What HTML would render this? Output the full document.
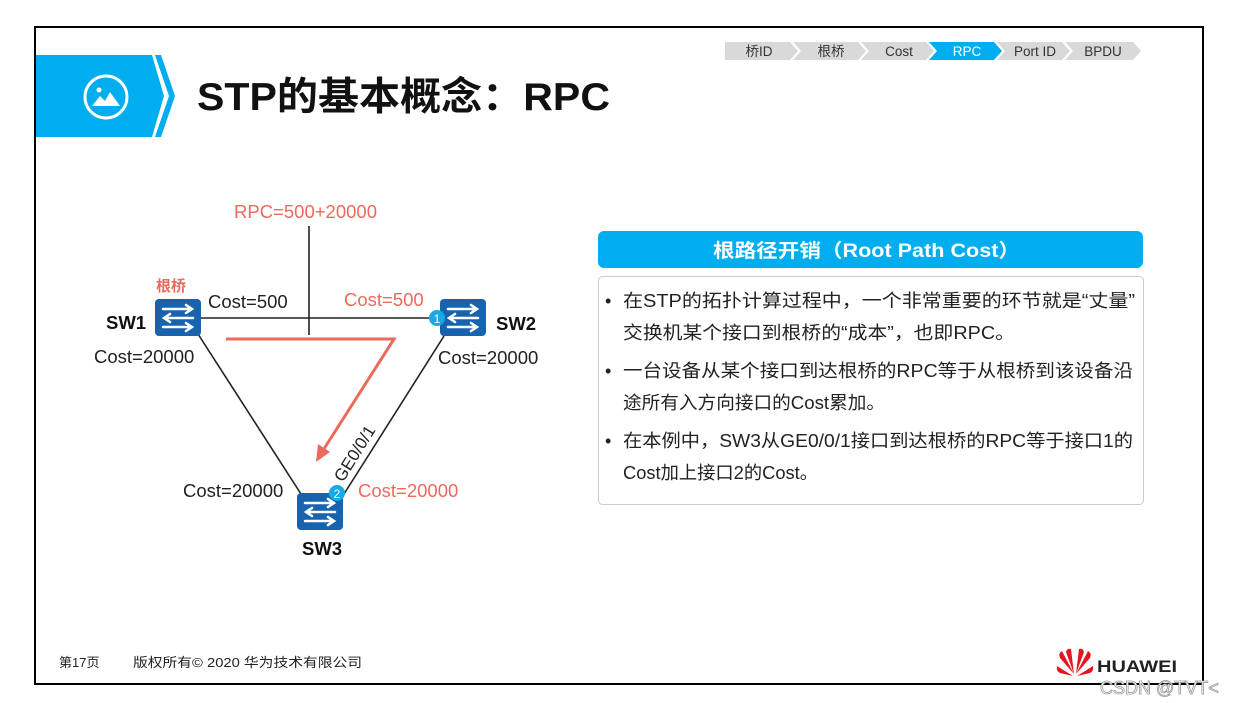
<!DOCTYPE html>
<html><head><meta charset="utf-8"><style>
body{margin:0;width:1240px;height:703px;background:#fff;position:relative;overflow:hidden;font-family:"Liberation Sans","Noto Sans CJK SC",sans-serif;}
</style></head><body>
<svg width="1240" height="703" style="position:absolute;left:0;top:0" font-family="Liberation Sans, Noto Sans CJK SC, sans-serif">
<defs>
<g id="sw">
<rect x="0" y="0" width="46" height="37" rx="4" fill="#1763ad"/>
<g stroke="#fff" stroke-width="2.5" fill="none" stroke-linecap="round">
<path d="M8 10H37M31 6L37 10L31 14"/>
<path d="M38 19H9M15 15L9 19L15 23"/>
<path d="M8 28H37M31 24L37 28L31 32"/>
</g></g>
</defs>
<rect x="35" y="27" width="1168" height="657" fill="none" stroke="#000" stroke-width="2"/>
<polygon points="36,55 152,55 164,96 152,137 36,137" fill="#00aeef"/>
<polygon points="155,55 161,55 175,96 161,137 155,137 169,96" fill="#00aeef"/>
<circle cx="106" cy="97" r="21" fill="none" stroke="#fff" stroke-width="3"/>
<circle cx="99" cy="90" r="2.5" fill="#fff"/>
<polygon points="92,106 100,96 105,101 110,92 120,106" fill="#fff"/>
<text x="197" y="110" font-size="39" font-weight="bold" fill="#111" textLength="413" lengthAdjust="spacingAndGlyphs">STP的基本概念：RPC</text>
<g font-size="13.5" text-anchor="middle">
<polygon points="725,42 790,42 798,51 790,60 725,60" fill="#d9d9d9"/>
<polygon points="793,42 858,42 866,51 858,60 793,60 801,51" fill="#d9d9d9"/>
<polygon points="861,42 926,42 934,51 926,60 861,60 869,51" fill="#d9d9d9"/>
<polygon points="929,42 994,42 1002,51 994,60 929,60 937,51" fill="#00aeef"/>
<polygon points="997,42 1062,42 1070,51 1062,60 997,60 1005,51" fill="#d9d9d9"/>
<polygon points="1065,42 1133,42 1141,51 1133,60 1065,60 1073,51" fill="#d9d9d9"/>
<text x="759" y="56" fill="#333">桥ID</text>
<text x="831" y="56" fill="#333">根桥</text>
<text x="899" y="56" fill="#333">Cost</text>
<text x="967" y="56" fill="#fff">RPC</text>
<text x="1035" y="56" fill="#333">Port ID</text>
<text x="1103" y="56" fill="#333">BPDU</text>
</g>
<g stroke="#222" stroke-width="1.6">
<line x1="200" y1="318" x2="442" y2="318"/>
<line x1="198" y1="334" x2="301" y2="494"/>
<line x1="444" y1="336" x2="344" y2="494"/>
<line x1="309" y1="226" x2="309" y2="335"/>
</g>
<polyline points="226,339 394,339 322,452" fill="none" stroke="#ec6a5c" stroke-width="3"/>
<polygon points="316,462 318,444 330,452" fill="#ec6a5c"/>
<use href="#sw" x="155" y="299"/>
<use href="#sw" x="440" y="299"/>
<use href="#sw" x="297" y="493"/>
<circle cx="437" cy="318" r="8" fill="#16a9e8"/>
<text x="437" y="323" font-size="12" fill="#fff" text-anchor="middle">1</text>
<circle cx="337" cy="493" r="8" fill="#16a9e8"/>
<text x="337" y="498" font-size="12" fill="#fff" text-anchor="middle">2</text>
<g font-size="18.5">
<text x="234" y="218" fill="#ec6a5c">RPC=500+20000</text>
<text x="156" y="291" fill="#ec6a5c" font-size="15" font-weight="bold">根桥</text>
<text x="106" y="329" font-weight="bold" fill="#111">SW1</text>
<text x="496" y="330" font-weight="bold" fill="#111">SW2</text>
<text x="302" y="555" font-weight="bold" fill="#111">SW3</text>
<text x="208" y="308" fill="#222">Cost=500</text>
<text x="344" y="306" fill="#ec6a5c">Cost=500</text>
<text x="94" y="363" fill="#222">Cost=20000</text>
<text x="438" y="364" fill="#222">Cost=20000</text>
<text x="183" y="497" fill="#222">Cost=20000</text>
<text x="358" y="497" fill="#ec6a5c">Cost=20000</text>
<text transform="translate(343,483) rotate(-58)" fill="#222" font-size="17">GE0/0/1</text>
</g>
<rect x="598" y="231" width="545" height="37" rx="6" fill="#00aeef"/>
<text x="713" y="257" font-size="19" font-weight="bold" fill="#fff" textLength="307" lengthAdjust="spacingAndGlyphs">根路径开销（Root Path Cost）</text>
<rect x="598.5" y="276.5" width="545" height="228" rx="4" fill="#fff" stroke="#ccc"/>
<g font-size="18" fill="#222">
<text x="605" y="307">•</text><text x="623" y="307" textLength="512" lengthAdjust="spacingAndGlyphs">在STP的拓扑计算过程中，一个非常重要的环节就是“丈量”</text>
<text x="623" y="339" textLength="392" lengthAdjust="spacingAndGlyphs">交换机某个接口到根桥的“成本”，也即RPC。</text>
<text x="605" y="377">•</text><text x="623" y="377" textLength="510" lengthAdjust="spacingAndGlyphs">一台设备从某个接口到达根桥的RPC等于从根桥到该设备沿</text>
<text x="623" y="409" textLength="262" lengthAdjust="spacingAndGlyphs">途所有入方向接口的Cost累加。</text>
<text x="605" y="447">•</text><text x="623" y="447" textLength="510" lengthAdjust="spacingAndGlyphs">在本例中，SW3从GE0/0/1接口到达根桥的RPC等于接口1的</text>
<text x="623" y="479" textLength="195" lengthAdjust="spacingAndGlyphs">Cost加上接口2的Cost。</text>
</g>
<text x="59" y="667" font-size="13" fill="#222">第17页</text>
<text x="133" y="667" font-size="13" fill="#222" textLength="229" lengthAdjust="spacingAndGlyphs">版权所有© 2020 华为技术有限公司</text>
<g fill="#e4161f">
<path d="M1074 674 L1060 658 Q1058 653 1062 651 Z"/>
<path d="M1074 674 L1066 652 Q1067 648 1071 649 Z"/>
<path d="M1076 674 L1084 652 Q1083 648 1079 649 Z"/>
<path d="M1076 674 L1090 658 Q1092 653 1088 651 Z"/>
<path d="M1073 676 L1057 666 Q1056 671 1060 673 Z"/>
<path d="M1077 676 L1093 666 Q1094 671 1090 673 Z"/>
</g>
<text x="1097" y="672" font-size="17" font-weight="bold" fill="#222" textLength="80" lengthAdjust="spacingAndGlyphs">HUAWEI</text>
<text x="1100" y="694" font-size="18" fill="#fff" stroke="#999" stroke-width="0.8">CSDN @TVT&lt;</text>
</svg>
</body></html>
